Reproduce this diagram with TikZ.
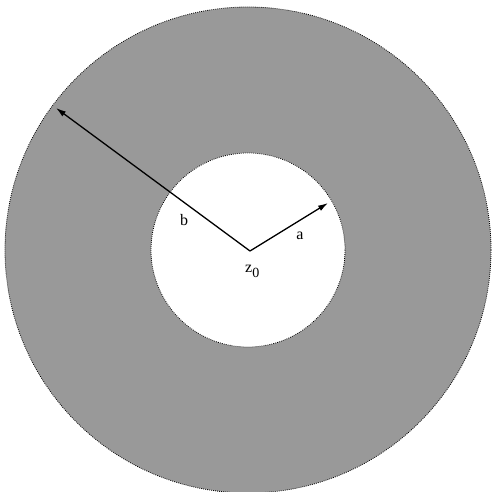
\documentclass[tikz,border=0pt]{standalone}
\usepackage{fontspec}
\setmainfont{Liberation Serif}
\usetikzlibrary{arrows.meta}
\begin{document}
\begin{tikzpicture}[x=1pt,y=-1pt,
  ring/.style={draw=black,line width=0.8pt,dash pattern=on 0.8pt off 1.2pt},
  radius arrow/.style={-{Latex[length=10pt,width=6pt]},line width=1.3pt},
  lbl/.style={font=\fontsize{16}{18}\selectfont,inner sep=0pt}]
\useasboundingbox (0,0) rectangle (491,492);
\coordinate (c) at (248,250);
\fill[fill={rgb,255:red,153;green,153;blue,153}] (c) circle[radius=243];
\draw[ring] (c) circle[radius=243];
\fill[white] (c) circle[radius=97];
\draw[ring] (c) circle[radius=97];
\coordinate (z) at (250,251);
\coordinate (btip) at (56,108);
\coordinate (atip) at (328,203);
\draw[radius arrow] (z) -- (btip);
\draw[radius arrow] (z) -- (atip);
\node[lbl] (b) at (184,220) {b};
\node[lbl] (a) at (300,236) {a};
\node[lbl,anchor=base west] (z0) at (245,272) {z\raisebox{-5pt}{\fontsize{14}{16}\selectfont 0}};
\end{tikzpicture}
\end{document}
